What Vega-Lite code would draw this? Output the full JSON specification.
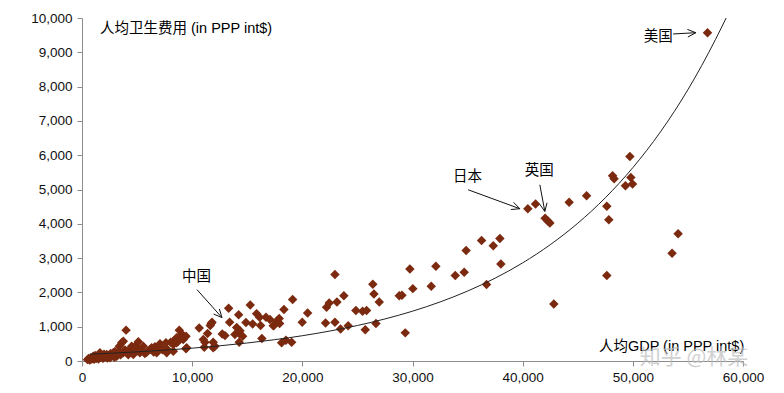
{
  "$schema": "https://vega.github.io/schema/vega-lite/v6.json",
  "width": 661,
  "height": 343,
  "autosize": {"type": "none"},
  "padding": {"left": 82, "top": 18, "right": 41, "bottom": 32},
  "config": {"view": {"stroke": null}, "font": "Liberation Sans, Noto Sans CJK SC", "axis": {"labelOverlap": false, "labelSeparation": 0}},
  "datasets": {
    "points": [
      {"x":500,"y":40},{"x":600,"y":70},{"x":700,"y":30},{"x":730,"y":45},{"x":800,"y":90},{"x":900,"y":60},{"x":1000,"y":120},{"x":1030,"y":140},{"x":1100,"y":50},{"x":1180,"y":95},{"x":1200,"y":160},{"x":1300,"y":80},{"x":1330,"y":95},{"x":1400,"y":130},{"x":1500,"y":60},{"x":1550,"y":180},{"x":1630,"y":240},{"x":1700,"y":110},{"x":1800,"y":150},{"x":1900,"y":80},{"x":1930,"y":95},{"x":1930,"y":140},{"x":2000,"y":200},{"x":2100,"y":120},{"x":2240,"y":190},{"x":2300,"y":90},{"x":2400,"y":160},{"x":2540,"y":95},{"x":2600,"y":220},{"x":2700,"y":140},{"x":2840,"y":190},{"x":2840,"y":240},{"x":2950,"y":110},{"x":3000,"y":280},{"x":3150,"y":140},{"x":3200,"y":210},{"x":3390,"y":430},{"x":3450,"y":255},{"x":3500,"y":180},{"x":3600,"y":530},{"x":3750,"y":575},{"x":3750,"y":240},{"x":3900,"y":320},{"x":4000,"y":900},{"x":4060,"y":285},{"x":4200,"y":180},{"x":4400,"y":350},{"x":4510,"y":430},{"x":4660,"y":190},{"x":4660,"y":285},{"x":4810,"y":430},{"x":5000,"y":300},{"x":5110,"y":560},{"x":5260,"y":240},{"x":5260,"y":335},{"x":5560,"y":430},{"x":5700,"y":220},{"x":5870,"y":255},{"x":6170,"y":335},{"x":6320,"y":385},{"x":6500,"y":260},{"x":6620,"y":415},{"x":6780,"y":240},{"x":6780,"y":285},{"x":7080,"y":430},{"x":7080,"y":500},{"x":7300,"y":330},{"x":7530,"y":335},{"x":7620,"y":530},{"x":7690,"y":240},{"x":7690,"y":355},{"x":8050,"y":550},{"x":8290,"y":285},{"x":8290,"y":480},{"x":8290,"y":575},{"x":8590,"y":530},{"x":8590,"y":675},{"x":8740,"y":575},{"x":8830,"y":900},{"x":9050,"y":790},{"x":9140,"y":720},{"x":9190,"y":625},{"x":9440,"y":355},{"x":9440,"y":720},{"x":9500,"y":385},
      {"x":10640,"y":960},{"x":11010,"y":625},{"x":11160,"y":550},{"x":11100,"y":400},{"x":11400,"y":800},{"x":11640,"y":1035},{"x":11730,"y":1090},{"x":11800,"y":1130},{"x":11910,"y":550},{"x":11910,"y":385},{"x":12070,"y":430},{"x":12730,"y":790},{"x":12980,"y":740},{"x":13310,"y":1540},{"x":13400,"y":1130},{"x":13880,"y":770},{"x":14040,"y":975},{"x":14220,"y":1345},{"x":14270,"y":550},{"x":14270,"y":800},{"x":14340,"y":880},{"x":14580,"y":720},{"x":14880,"y":1120},{"x":15270,"y":1635},{"x":15490,"y":1080},{"x":15850,"y":1380},{"x":16120,"y":1275},{"x":16210,"y":1035},{"x":16330,"y":655},{"x":16700,"y":1275},{"x":17060,"y":1210},{"x":17360,"y":1030},{"x":17420,"y":1035},{"x":17670,"y":1160},{"x":17900,"y":1240},{"x":17940,"y":1090},{"x":18120,"y":530},{"x":18330,"y":1500},{"x":18510,"y":605},{"x":19030,"y":550},{"x":19120,"y":1790},{"x":19990,"y":1130},{"x":20480,"y":1400},
      {"x":22110,"y":1110},{"x":22200,"y":1570},{"x":22440,"y":1690},{"x":22960,"y":2520},{"x":22960,"y":1130},{"x":23140,"y":1720},{"x":23470,"y":935},{"x":23770,"y":1905},{"x":24160,"y":1025},{"x":24860,"y":1470},{"x":25470,"y":1450},{"x":25710,"y":910},{"x":25830,"y":1470},{"x":26400,"y":2240},{"x":26500,"y":1955},{"x":26680,"y":1090},{"x":26980,"y":1720},{"x":28800,"y":1905},{"x":29040,"y":1915},{"x":29340,"y":820},{"x":29760,"y":2680},
      {"x":30030,"y":2110},{"x":31700,"y":2180},{"x":32120,"y":2760},{"x":33880,"y":2490},{"x":34690,"y":2585},{"x":34870,"y":3220},{"x":36270,"y":3510},{"x":36720,"y":2230},{"x":37330,"y":3360},{"x":37930,"y":3570},{"x":38020,"y":2830},{"x":40470,"y":4440},{"x":41170,"y":4575},{"x":42040,"y":4160},{"x":42260,"y":4090},{"x":42470,"y":4020},{"x":42830,"y":1665},{"x":44220,"y":4630},{"x":45800,"y":4820},{"x":47640,"y":4510},{"x":47640,"y":2490},{"x":47820,"y":4120},{"x":48160,"y":5400},{"x":48300,"y":5310},{"x":49330,"y":5110},{"x":49730,"y":5960},{"x":49820,"y":5350},{"x":49970,"y":5160},{"x":53560,"y":3140},{"x":54110,"y":3710},{"x":56780,"y":9570}
    ],
    "trend": [
      {"x":700,"y":199},{"x":2500,"y":225},{"x":5000,"y":267},{"x":7500,"y":316},{"x":10000,"y":374},{"x":12500,"y":443},{"x":15000,"y":525},{"x":17500,"y":622},{"x":20000,"y":737},{"x":22500,"y":874},{"x":25000,"y":1035},{"x":27500,"y":1226},{"x":30000,"y":1452},{"x":32500,"y":1721},{"x":35000,"y":2039},{"x":37500,"y":2415},{"x":40000,"y":2861},{"x":42500,"y":3390},{"x":45000,"y":4016},{"x":47500,"y":4758},{"x":50000,"y":5637},{"x":52500,"y":6677},{"x":55000,"y":7910},{"x":57500,"y":9372},{"x":58470,"y":10000}
    ],
    "arrows": [
      {"x":10435,"y":2081,"x2":12704,"y2":1266},
      {"x":12704,"y":1266,"x2":12468,"y2":1517},
      {"x":12704,"y":1266,"x2":11951,"y2":1368},
      {"x":35053,"y":4992,"x2":39744,"y2":4439},
      {"x":39744,"y":4439,"x2":39172,"y2":4626},
      {"x":39744,"y":4439,"x2":38927,"y2":4416},
      {"x":41559,"y":5138,"x2":42013,"y2":4361},
      {"x":42013,"y":4361,"x2":42212,"y2":4614},
      {"x":42013,"y":4361,"x2":41541,"y2":4573},
      {"x":53655,"y":9534,"x2":55719,"y2":9571},
      {"x":55719,"y":9571,"x2":54953,"y2":9667},
      {"x":55719,"y":9571,"x2":54998,"y2":9446}
    ],
    "labels": [
      {"x":1630,"y":9680,"label":"人均卫生费用 (in PPP int$)"},
      {"x":46920,"y":420,"label":"人均GDP (in PPP int$)"},
      {"x":9075,"y":2460,"label":"中国"},
      {"x":33670,"y":5370,"label":"日本"},
      {"x":40200,"y":5545,"label":"英国"},
      {"x":51000,"y":9446,"label":"美国"}
    ],
    "watermark": [
      {"x":50630,"y":100,"label":"知乎 @林某"}
    ]
  },
  "encoding": {
    "x": {"field": "x", "type": "quantitative",
      "scale": {"domain": [0, 60000], "nice": false, "zero": true},
      "axis": {"values": [0,10000,20000,30000,40000,50000,60000], "format": ",d", "title": null, "grid": false,
        "domainColor": "#8c8c8c", "tickColor": "#8c8c8c", "tickSize": 5, "labelFontSize": 13.5, "labelColor": "#111111",
        "labelPadding": 4, "labelFlush": false, "labelOverlap": false, "labelFont": "Liberation Sans"}},
    "y": {"field": "y", "type": "quantitative",
      "scale": {"domain": [0, 10000], "nice": false, "zero": true},
      "axis": {"values": [0,1000,2000,3000,4000,5000,6000,7000,8000,9000,10000], "format": ",d", "title": null, "grid": false,
        "domainColor": "#8c8c8c", "tickColor": "#8c8c8c", "tickSize": 5, "labelFontSize": 13.5, "labelColor": "#111111",
        "labelPadding": 5, "labelFlush": false, "labelOverlap": false, "labelFont": "Liberation Sans"}}
  },
  "layer": [
    {
      "data": {"name": "points"},
      "mark": {"type": "point", "shape": "diamond", "filled": true, "size": 90, "color": "#7B2A0F", "opacity": 1}
    },
    {
      "data": {"name": "trend"},
      "mark": {"type": "line", "color": "#222222", "strokeWidth": 1, "interpolate": "monotone"}
    },
    {
      "data": {"name": "arrows"},
      "mark": {"type": "rule", "color": "#111111", "strokeWidth": 1},
      "encoding": {
        "x2": {"field": "x2"},
        "y2": {"field": "y2"}
      }
    },
    {
      "data": {"name": "labels"},
      "mark": {"type": "text", "align": "left", "baseline": "middle", "fontSize": 14.5, "color": "#000000", "font": "Liberation Sans, Noto Sans CJK SC"},
      "encoding": {
        "text": {"field": "label"}
      }
    },
    {
      "data": {"name": "watermark"},
      "mark": {"type": "text", "align": "left", "baseline": "middle", "fontSize": 21, "color": "#bdbdbd", "opacity": 0.7, "font": "Noto Sans CJK SC"},
      "encoding": {
        "text": {"field": "label"}
      }
    }
  ]
}
